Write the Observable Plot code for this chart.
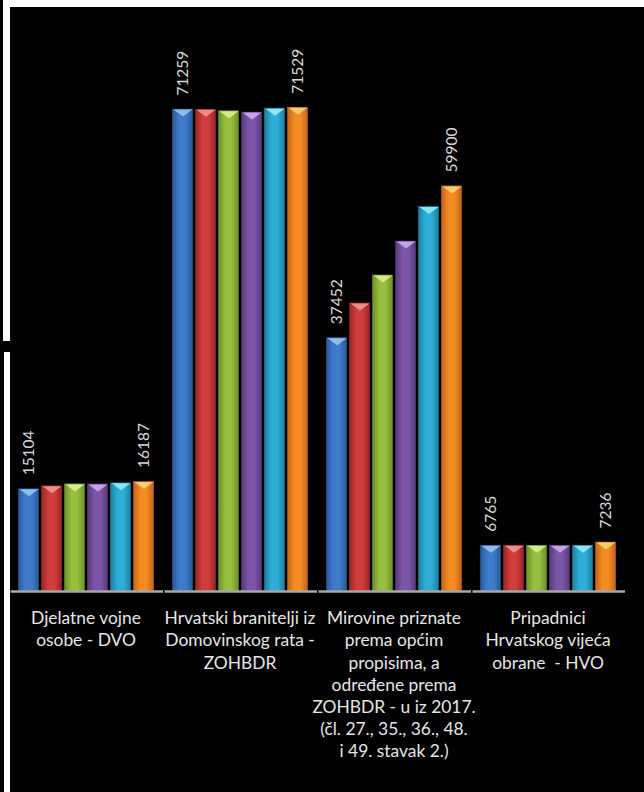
<!DOCTYPE html>
<html><head><meta charset="utf-8">
<script src="https://cdn.jsdelivr.net/npm/d3@7"></script>
<script src="https://cdn.jsdelivr.net/npm/@observablehq/plot@0.6"></script>
<style>
html,body{margin:0;padding:0;background:#000;width:644px;height:792px;overflow:hidden;position:relative}
.w{position:absolute;background:#fff}
#chart{position:absolute;left:10px;top:7px}
</style></head><body>
<div class="w" style="left:3px;top:0;width:641px;height:7px"></div>
<div class="w" style="left:3px;top:0;width:7px;height:341px"></div>
<div class="w" style="left:4px;top:352px;width:6px;height:440px"></div>
<div id="chart"></div>
<script>
const categories = ["DVO", "ZOHBDR", "Mirovine", "HVO"];
const categoryLabels = [
  "Djelatne vojne\nosobe - DVO",
  "Hrvatski branitelji iz\nDomovinskog rata -\nZOHBDR",
  "Mirovine priznate\nprema općim\npropisima, a\nodređene prema\nZOHBDR - u iz 2017.\n(čl. 27., 35., 36., 48.\ni 49. stavak 2.)",
  "Pripadnici\nHrvatskog vijeća\nobrane  - HVO"
];
const series = ["s1", "s2", "s3", "s4", "s5", "s6"];
const dvoValues = [15104, 15546, 15840, 15830, 15990, 16187];
const zohbdrValues = [71259, 71240, 71006, 70815, 71400, 71529];
const mirovineValues = [37452, 42590, 46727, 51752, 56865, 59900];
const hvoValues = [6765, 6760, 6755, 6755, 6760, 7236];
const labelledSeries = ["s1", "s6"];

const baseColors = ["#3e7ccb", "#cf3d3d", "#96bf3f", "#7d55a8", "#2eaed6", "#f58c22"];
const edgeColors = ["#2a5a9c", "#9c2626", "#6e8f2a", "#573a7c", "#1d809f", "#c2661a"];
const lightColors = ["#9cc8f5", "#f59a9a", "#dff29a", "#cfb1ee", "#9aeefc", "#ffd67a"];

const valuesByCategory = [dvoValues, zohbdrValues, mirovineValues, hvoValues];
const rows = [];
categories.forEach((c, i) => valuesByCategory[i].forEach((v, j) => rows.push({category: c, series: series[j], si: j, value: v})));

const notch = {draw(ctx) { ctx.moveTo(-9.5, 0); ctx.lineTo(9.5, 0); ctx.lineTo(0, 7); ctx.closePath(); }};

const chart = Plot.plot({
  width: 634, height: 785,
  marginLeft: 5.5, marginRight: 26.5, marginTop: 43, marginBottom: 201,
  style: {background: "#000", color: "#ddd", fontFamily: "Lato, 'Open Sans', sans-serif"},
  fx: {domain: categories, paddingInner: 0.113, paddingOuter: 0, axis: null, label: null},
  x: {domain: series, paddingInner: 0.15, paddingOuter: 0, axis: null, label: null},
  y: {domain: [0, 80000], axis: null},
  color: {type: "identity"},
  marks: [
    Plot.barY(rows, {fx: "category", x: "series", y: "value", fill: d => `url(#grad-${d.series})`, stroke: d => edgeColors[d.si], strokeWidth: 0.6}),
    Plot.dot(rows, {fx: "category", x: "series", y: "value", symbol: notch, r: 5, fill: d => lightColors[d.si], fillOpacity: 0.85, stroke: "none"}),
    Plot.ruleY([0], {stroke: "#a8a8a8", strokeWidth: 2.5, insetLeft: -6.5, insetRight: -9}),
    Plot.text(rows.filter(d => labelledSeries.includes(d.series)), {
      fx: "category", x: "series", y: "value", text: d => String(d.value),
      rotate: -90, textAnchor: "start", lineAnchor: "middle", dy: -14,
      fontSize: 15.5, fill: "#d8d8d8"
    }),
    Plot.text(categories, {
      fx: d => d, text: (d, i) => categoryLabels[i], frameAnchor: "bottom",
      lineAnchor: "top", dy: 17, fontSize: 17.4, lineHeight: 1.276, fill: "#e6e6e6"
    })
  ]
});

const defs = d3.select(chart).insert("defs", ":first-child");
series.forEach((s, j) => {
  const g = defs.append("linearGradient").attr("id", `grad-${s}`).attr("x1", "0").attr("x2", "1").attr("y1", "0").attr("y2", "0");
  g.append("stop").attr("offset", "0%").attr("stop-color", edgeColors[j]);
  g.append("stop").attr("offset", "35%").attr("stop-color", baseColors[j]);
  g.append("stop").attr("offset", "65%").attr("stop-color", baseColors[j]);
  g.append("stop").attr("offset", "100%").attr("stop-color", edgeColors[j]);
});
document.getElementById("chart").appendChild(chart);
</script>
</body></html>
